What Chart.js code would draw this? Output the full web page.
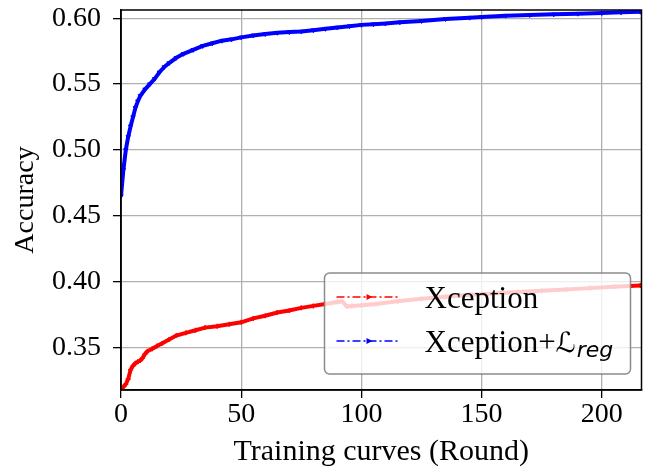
<!DOCTYPE html>
<html>
<head>
<meta charset="utf-8">
<script src="https://cdn.jsdelivr.net/npm/chart.js@4/dist/chart.umd.min.js"></script>
<style>
  html, body { margin: 0; padding: 0; background: #fff; }
  #wrap { width: 647px; height: 473px; }
</style>
</head>
<body>
<div id="wrap"><canvas id="chart" width="647" height="473"></canvas></div>
<script>
// Valeurs (round, accuracy)
const baseRounds = [0, 1, 2, 3, 4, 5, 6, 7, 8, 9, 10, 11, 13, 15, 17, 20, 23, 27, 31, 35, 40, 45, 50, 55, 60, 65, 70, 75, 80, 85, 90, 92, 94, 96, 100, 106, 115, 125, 135, 145, 155, 165, 175, 185, 195, 205, 216];
const baseAcc = [0.317, 0.320, 0.322, 0.326, 0.333, 0.336, 0.338, 0.339, 0.340, 0.342, 0.345, 0.347, 0.349, 0.351, 0.353, 0.356, 0.359, 0.361, 0.363, 0.365, 0.366, 0.3675, 0.369, 0.372, 0.374, 0.3765, 0.378, 0.380, 0.3815, 0.383, 0.3845, 0.385, 0.381, 0.3815, 0.382, 0.383, 0.385, 0.387, 0.3885, 0.390, 0.391, 0.392, 0.393, 0.394, 0.395, 0.396, 0.397];

const regRounds = [0, 1, 2, 3, 4, 5, 6, 7, 8, 10, 12, 14, 16, 18, 20, 23, 26, 30, 34, 38, 42, 46, 50, 55, 60, 65, 70, 75, 80, 85, 90, 95, 100, 105, 110, 116, 125, 135, 145, 150, 160, 170, 180, 190, 200, 208, 216];
const regAcc = [0.465, 0.485, 0.500, 0.510, 0.518, 0.525, 0.532, 0.537, 0.541, 0.546, 0.550, 0.554, 0.559, 0.563, 0.566, 0.570, 0.573, 0.576, 0.579, 0.581, 0.583, 0.584, 0.5855, 0.587, 0.588, 0.589, 0.5895, 0.590, 0.591, 0.592, 0.593, 0.594, 0.595, 0.5955, 0.596, 0.597, 0.598, 0.5995, 0.6005, 0.601, 0.602, 0.6025, 0.603, 0.6035, 0.604, 0.6045, 0.605];

const xTicks = [0, 50, 100, 150, 200];
const yTicks = [0.35, 0.40, 0.45, 0.50, 0.55, 0.60];
const seriesNames = ['Xception', 'Xception+'];

const SERIF = '"Liberation Serif", "Times New Roman", serif';

function toPoints(xs, ys) {
  return xs.map((x, i) => ({ x: x, y: ys[i] }));
}

// Cadre complet autour de la zone de tracé
const framePlugin = {
  id: 'frame',
  afterDatasetsDraw(chart) {
    const { ctx, chartArea: a } = chart;
    ctx.save();
    ctx.strokeStyle = '#000';
    ctx.lineWidth = 1.5;
    ctx.strokeRect(a.left, a.top, a.right - a.left, a.bottom - a.top);
    ctx.restore();
  }
};

// Légende façon matplotlib (avec indice en italique)
const legendPlugin = {
  id: 'mplLegend',
  afterDraw(chart) {
    const ctx = chart.ctx;
    const a = chart.chartArea;
    const w = 306, h = 101;
    const x0 = a.right - 11 - w, y0 = a.bottom - 16 - h;
    ctx.save();
    // boîte
    const r = 5;
    ctx.beginPath();
    ctx.moveTo(x0 + r, y0);
    ctx.arcTo(x0 + w, y0, x0 + w, y0 + h, r);
    ctx.arcTo(x0 + w, y0 + h, x0, y0 + h, r);
    ctx.arcTo(x0, y0 + h, x0, y0, r);
    ctx.arcTo(x0, y0, x0 + w, y0, r);
    ctx.closePath();
    ctx.fillStyle = 'rgba(255,255,255,0.8)';
    ctx.fill();
    ctx.strokeStyle = 'rgba(128,128,128,0.9)';
    ctx.lineWidth = 1.5;
    ctx.stroke();

    const rows = [y0 + 24, y0 + 68];
    chart.data.datasets.forEach((ds, i) => {
      const y = rows[i];
      ctx.strokeStyle = ds.borderColor;
      ctx.lineWidth = 1.5;
      ctx.setLineDash([8, 3, 2, 3]);
      ctx.beginPath();
      ctx.moveTo(x0 + 12, y);
      ctx.lineTo(x0 + 73, y);
      ctx.stroke();
      ctx.setLineDash([]);
      // marqueur
      const mx = x0 + 44;
      ctx.fillStyle = ds.borderColor;
      ctx.beginPath();
      ctx.moveTo(mx + 4, y);
      ctx.lineTo(mx - 2, y - 3);
      ctx.lineTo(mx - 2, y + 3);
      ctx.closePath();
      ctx.fill();

      ctx.fillStyle = '#000';
      ctx.textBaseline = 'alphabetic';
      ctx.textAlign = 'left';
      ctx.font = '31px ' + SERIF;
      const tx = x0 + 100, ty = y + 11;
      ctx.fillText(seriesNames[i], tx, ty);
      if (i === 1) {
        let cx = tx + ctx.measureText(seriesNames[i]).width;
        ctx.font = 'italic 28px "DejaVu Sans"';
        ctx.fillText('\u2112', cx, ty);
        cx += ctx.measureText('\u2112').width + 1;
        ctx.font = 'italic 22px "DejaVu Sans"';
        ctx.fillText('reg', cx, ty + 5);
      }
    });
    ctx.restore();
  }
};

const ctx = document.getElementById('chart');
new Chart(ctx, {
  type: 'line',
  data: {
    datasets: [
      {
        label: seriesNames[0],
        data: toPoints(baseRounds, baseAcc),
        borderColor: '#ff0000',
        backgroundColor: '#ff0000',
        borderWidth: 4,
        pointStyle: 'cross',
        pointRadius: 2.5,
        pointBorderWidth: 1.5,
        tension: 0,
        fill: false
      },
      {
        label: seriesNames[1],
        data: toPoints(regRounds, regAcc),
        borderColor: '#0000ff',
        backgroundColor: '#0000ff',
        borderWidth: 4,
        pointStyle: 'triangle',
        pointRotation: 180,
        pointRadius: 2.5,
        pointBorderWidth: 1,
        tension: 0,
        fill: false
      }
    ]
  },
  options: {
    responsive: false,
    animation: false,
    layout: { padding: { top: 10, right: 5, left: 0, bottom: 0 } },
    plugins: {
      legend: { display: false },
      tooltip: { enabled: false }
    },
    scales: {
      x: {
        type: 'linear',
        min: 0,
        max: 216.5,
        afterFit: scale => { scale.height = 83; scale.paddingLeft = 0; scale.paddingRight = 0; },
        afterBuildTicks: scale => { scale.ticks = xTicks.map(v => ({ value: v })); },
        grid: { color: '#b0b0b0', lineWidth: 1.3, tickColor: '#000', tickLength: 8, tickWidth: 1.3 },
        border: { color: '#000', width: 1.5 },
        ticks: {
          color: '#000',
          padding: 0,
          maxRotation: 0,
          font: { family: SERIF, size: 28 },
          callback: v => String(v)
        },
        title: {
          display: true,
          text: 'Training curves (Round)',
          color: '#000',
          font: { family: SERIF, size: 30 },
          padding: { top: 0, bottom: 3 }
        }
      },
      y: {
        type: 'linear',
        min: 0.3176,
        max: 0.6063,
        afterFit: scale => { scale.width = 121; scale.paddingTop = 0; scale.paddingBottom = 0; },
        afterBuildTicks: scale => { scale.ticks = yTicks.map(v => ({ value: v })); },
        grid: { color: '#b0b0b0', lineWidth: 1.3, tickColor: '#000', tickLength: 8, tickWidth: 1.3 },
        border: { color: '#000', width: 1.5 },
        ticks: {
          color: '#000',
          padding: 12,
          font: { family: SERIF, size: 28 },
          callback: v => v.toFixed(2)
        },
        title: {
          display: true,
          text: 'Accuracy',
          color: '#000',
          font: { family: SERIF, size: 28 },
          padding: { top: 9, bottom: 0 }
        }
      }
    }
  },
  plugins: [framePlugin, legendPlugin]
});
</script>
</body>
</html>
